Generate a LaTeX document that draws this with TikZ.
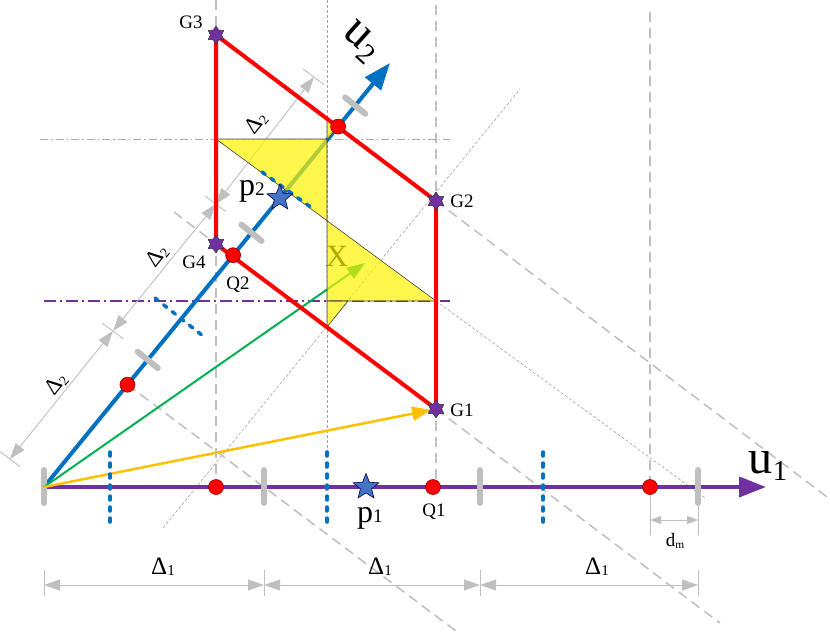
\documentclass[tikz,border=0pt]{standalone}
\usepackage{fontspec}
\setmainfont{Liberation Serif}
\usetikzlibrary{arrows.meta,shapes.geometric,calc}
\definecolor{axpurple}{HTML}{7030A0}
\definecolor{axblue}{HTML}{0070C0}
\definecolor{lgray}{HTML}{BFBFBF}
\definecolor{stblue}{HTML}{4472C4}
\definecolor{ggreen}{HTML}{00B050}
\definecolor{gold}{HTML}{FFC000}
\definecolor{lpurple}{HTML}{B3A2C7}
\newcommand{\lsub}[2][-0.12em]{\raisebox{#1}{\scalebox{0.6}{#2}}}
\begin{document}
\begin{tikzpicture}[x=1pt,y=-1pt,
  gdash/.style={draw=lgray, line width=1.5pt, dash pattern=on 10pt off 6pt},
  fdash/.style={draw=lgray!85!black, line width=0.6pt, dash pattern=on 3pt off 2pt},
  dimline/.style={draw=lgray, line width=0.9pt},
  dimarr/.style={dimline, {Triangle[length=16pt,width=11pt]}-{Triangle[length=16pt,width=11pt]}},
  smallarr/.style={dimline, {Triangle[length=11pt,width=8pt]}-{Triangle[length=11pt,width=8pt]}},
  tickmark/.style={draw=lgray, line width=6pt, line cap=round},
  bdot/.style={draw=axblue, line width=3.5pt, line cap=round, dash pattern=on 4pt off 7pt},
  redline/.style={draw=red, line width=4pt},
  reddot/.style={circle, fill=red, draw=red!55!black, line width=0.6pt, minimum size=15pt, inner sep=0pt},
  gstar/.style={star, star points=6, star point ratio=1.6, fill=axpurple, draw=black!80, line width=0.5pt, minimum size=18pt, inner sep=0pt},
  pstar/.style={star, star points=5, star point ratio=2.3, fill=stblue, draw=blue!30!black, line width=0.6pt, minimum size=27pt, inner sep=0pt},
  lbl/.style={font=\fontsize{19}{21}\selectfont, inner sep=0pt},
  dlbl/.style={font=\fontsize{25}{27}\selectfont, inner sep=0pt},
  d2lbl/.style={font=\fontsize{23}{25}\selectfont, inner sep=0pt, rotate=51},
  ulbl/.style={font=\fontsize{48}{52}\selectfont, inner sep=0pt},
  plbl/.style={font=\fontsize{32}{34}\selectfont, inner sep=0pt, anchor=base},
  ytri/.style={fill=yellow, fill opacity=0.7, draw=black!75, line width=0.6pt},
]
\useasboundingbox (0,0) rectangle (830,637);

% key points
\coordinate (O) at (44,487);
\coordinate (U1) at (766,487);
\coordinate (U2) at (390,63);
\coordinate (G1) at (436,409);
\coordinate (G2) at (436,201);
\coordinate (G3) at (216,35);
\coordinate (G4) at (216,244);
\coordinate (R1) at (127.5,384.7);
\coordinate (R2) at (233.1,255.2);
\coordinate (R3) at (338.1,126.6);
\coordinate (C1) at (147.7,359.9);
\coordinate (C2) at (251.5,232.8);
\coordinate (C3) at (355.2,105.6);
\coordinate (P1) at (366,487);
\coordinate (P2) at (279.8,198);
\coordinate (Xtip) at (365,263);

% construction lines
\draw[gdash] (216,0) -- (216,487);
\draw[fdash] (327,0) -- (327,452);
\draw[gdash] (436,5) -- (436,487);
\draw[gdash] (650,12) -- (650,487);
\draw[gdash] (G2) -- (827,497);
\draw[gdash] (G1) -- (720,623);
\draw[gdash] (R1) -- (460,634);
\draw[gdash] (174,212) -- (G4);
\draw[fdash] (163,528) -- (520,89);
\draw[fdash] (436,301) -- (705,498);
\draw[lpurple, line width=0.8pt, dash pattern=on 8pt off 3pt on 1.5pt off 3pt] (40,139) -- (450,139);
\draw[axpurple, line width=1.2pt, dash pattern=on 12pt off 4pt on 2pt off 4pt] (44,301) -- (450,301);

% dimensions along u1
\foreach \x in {44,264,480,698} \draw[dimline] (\x,570) -- (\x,596);
\draw[dimarr] (44,585) -- (264,585);
\draw[dimarr] (264,585) -- (480,585);
\draw[dimarr] (480,585) -- (698,585);
\draw[dimline] (650,495) -- (650,535);
\draw[dimline] (698,505) -- (698,535);
\draw[smallarr] (650,520) -- (698,520);
\node[dlbl] (D1a) at (163,567) {Δ\lsub[-0.05em]{1}};
\node[dlbl] (D1b) at (380,567) {Δ\lsub[-0.05em]{1}};
\node[dlbl] (D1c) at (597,567) {Δ\lsub[-0.05em]{1}};
\node[font=\fontsize{19}{21}\selectfont, inner sep=0pt] (dm) at (675,541) {d\lsub[-0.1em]{m}};

% dimensions along u2
\coordinate (E0) at (10,459);
\coordinate (E1) at (113,331);
\coordinate (E2) at (216,204);
\coordinate (E3) at (314,77);
\foreach \e in {E0,E1,E2,E3} \draw[dimline] ($(\e)+(-11,-8)$) -- ($(\e)+(10,7.5)$);
\draw[dimarr] (E0) -- (E1);
\draw[dimarr] (E1) -- (E2);
\draw[dimarr] (E2) -- (E3);
\node[d2lbl] (D2a) at (56,384) {Δ\lsub{2}};
\node[d2lbl] (D2b) at (157,256) {Δ\lsub{2}};
\node[d2lbl] (D2c) at (256,123) {Δ\lsub{2}};

% axes
\draw[axpurple, line width=4pt, -{Triangle[length=27pt,width=20pt]}] (O) -- (U1);
\draw[axblue, line width=4pt, -{Triangle[length=27pt,width=20pt]}] (O) -- (U2);
\foreach \x in {44,264,480,698} \draw[tickmark] (\x,470) -- (\x,503);
\foreach \c in {C1,C2,C3} \draw[tickmark] ($(\c)+(-10.1,-8.2)$) -- ($(\c)+(10.1,8.2)$);

% vectors
\draw[ggreen, line width=2pt, -{Triangle[length=18pt,width=13pt]}] (O) -- (Xtip);
\draw[gold, line width=2.5pt, -{Triangle[length=19pt,width=14pt]}, shorten >=5pt] (O) -- (G1);
\node[font=\fontsize{31}{33}\selectfont, inner sep=0pt] (Xl) at (337,256) {X};

% yellow triangles
\draw[ytri] (216,139) -- (327,139) -- (327,220.7) -- cycle;
\draw[ytri] (327,220.7) -- (327,301) -- (436,301) -- cycle;
\draw[ytri] (327,119) -- (327,140) -- (R3) -- cycle;
\draw[ytri] (327,301) -- (348,301) -- (327,327) -- cycle;

% parallelogram
\draw[redline] (G3) -- (G4) -- (G1) -- (G2) -- cycle;

% blue dotted marks
\foreach \x in {110,327,543} \draw[bdot] (\x,452) -- (\x,523);
\draw[bdot] (155,298) -- (203,336);
\draw[bdot] (262,172) -- (312,208);

% points
\node[reddot] (qa) at (216,487) {};
\node[reddot] (Q1) at (433,487) {};
\node[reddot] (qc) at (650,487) {};
\node[reddot] (ra) at (R1) {};
\node[reddot] (Q2) at (R2) {};
\node[reddot] (rc) at (R3) {};
\node[gstar] (g1) at (G1) {};
\node[gstar] (g2) at (G2) {};
\node[gstar] (g3) at (G3) {};
\node[gstar] (g4) at (G4) {};
\node[pstar] (p1) at (P1) {};
\node[pstar] (p2) at (P2) {};

% labels
\node[lbl] (lG3) at (191,22) {G3};
\node[lbl] (lG4) at (194,262) {G4};
\node[lbl] (lG2) at (462,201) {G2};
\node[lbl] (lG1) at (462,410) {G1};
\node[lbl] (lQ2) at (238,285) {Q2};
\node[lbl] (lQ1) at (434,512) {Q1};
\node[plbl] (lp1) at (370,522) {p\lsub[0em]{1}};
\node[plbl] (lp2) at (252,195) {p\lsub[0em]{2}};
\node[ulbl, anchor=base] (lu1) at (768,473) {u\lsub[-0.15em]{1}};
\node[ulbl, rotate=-42] (lu2) at (361,42) {u\lsub[-0.15em]{2}};
\end{tikzpicture}
\end{document}
